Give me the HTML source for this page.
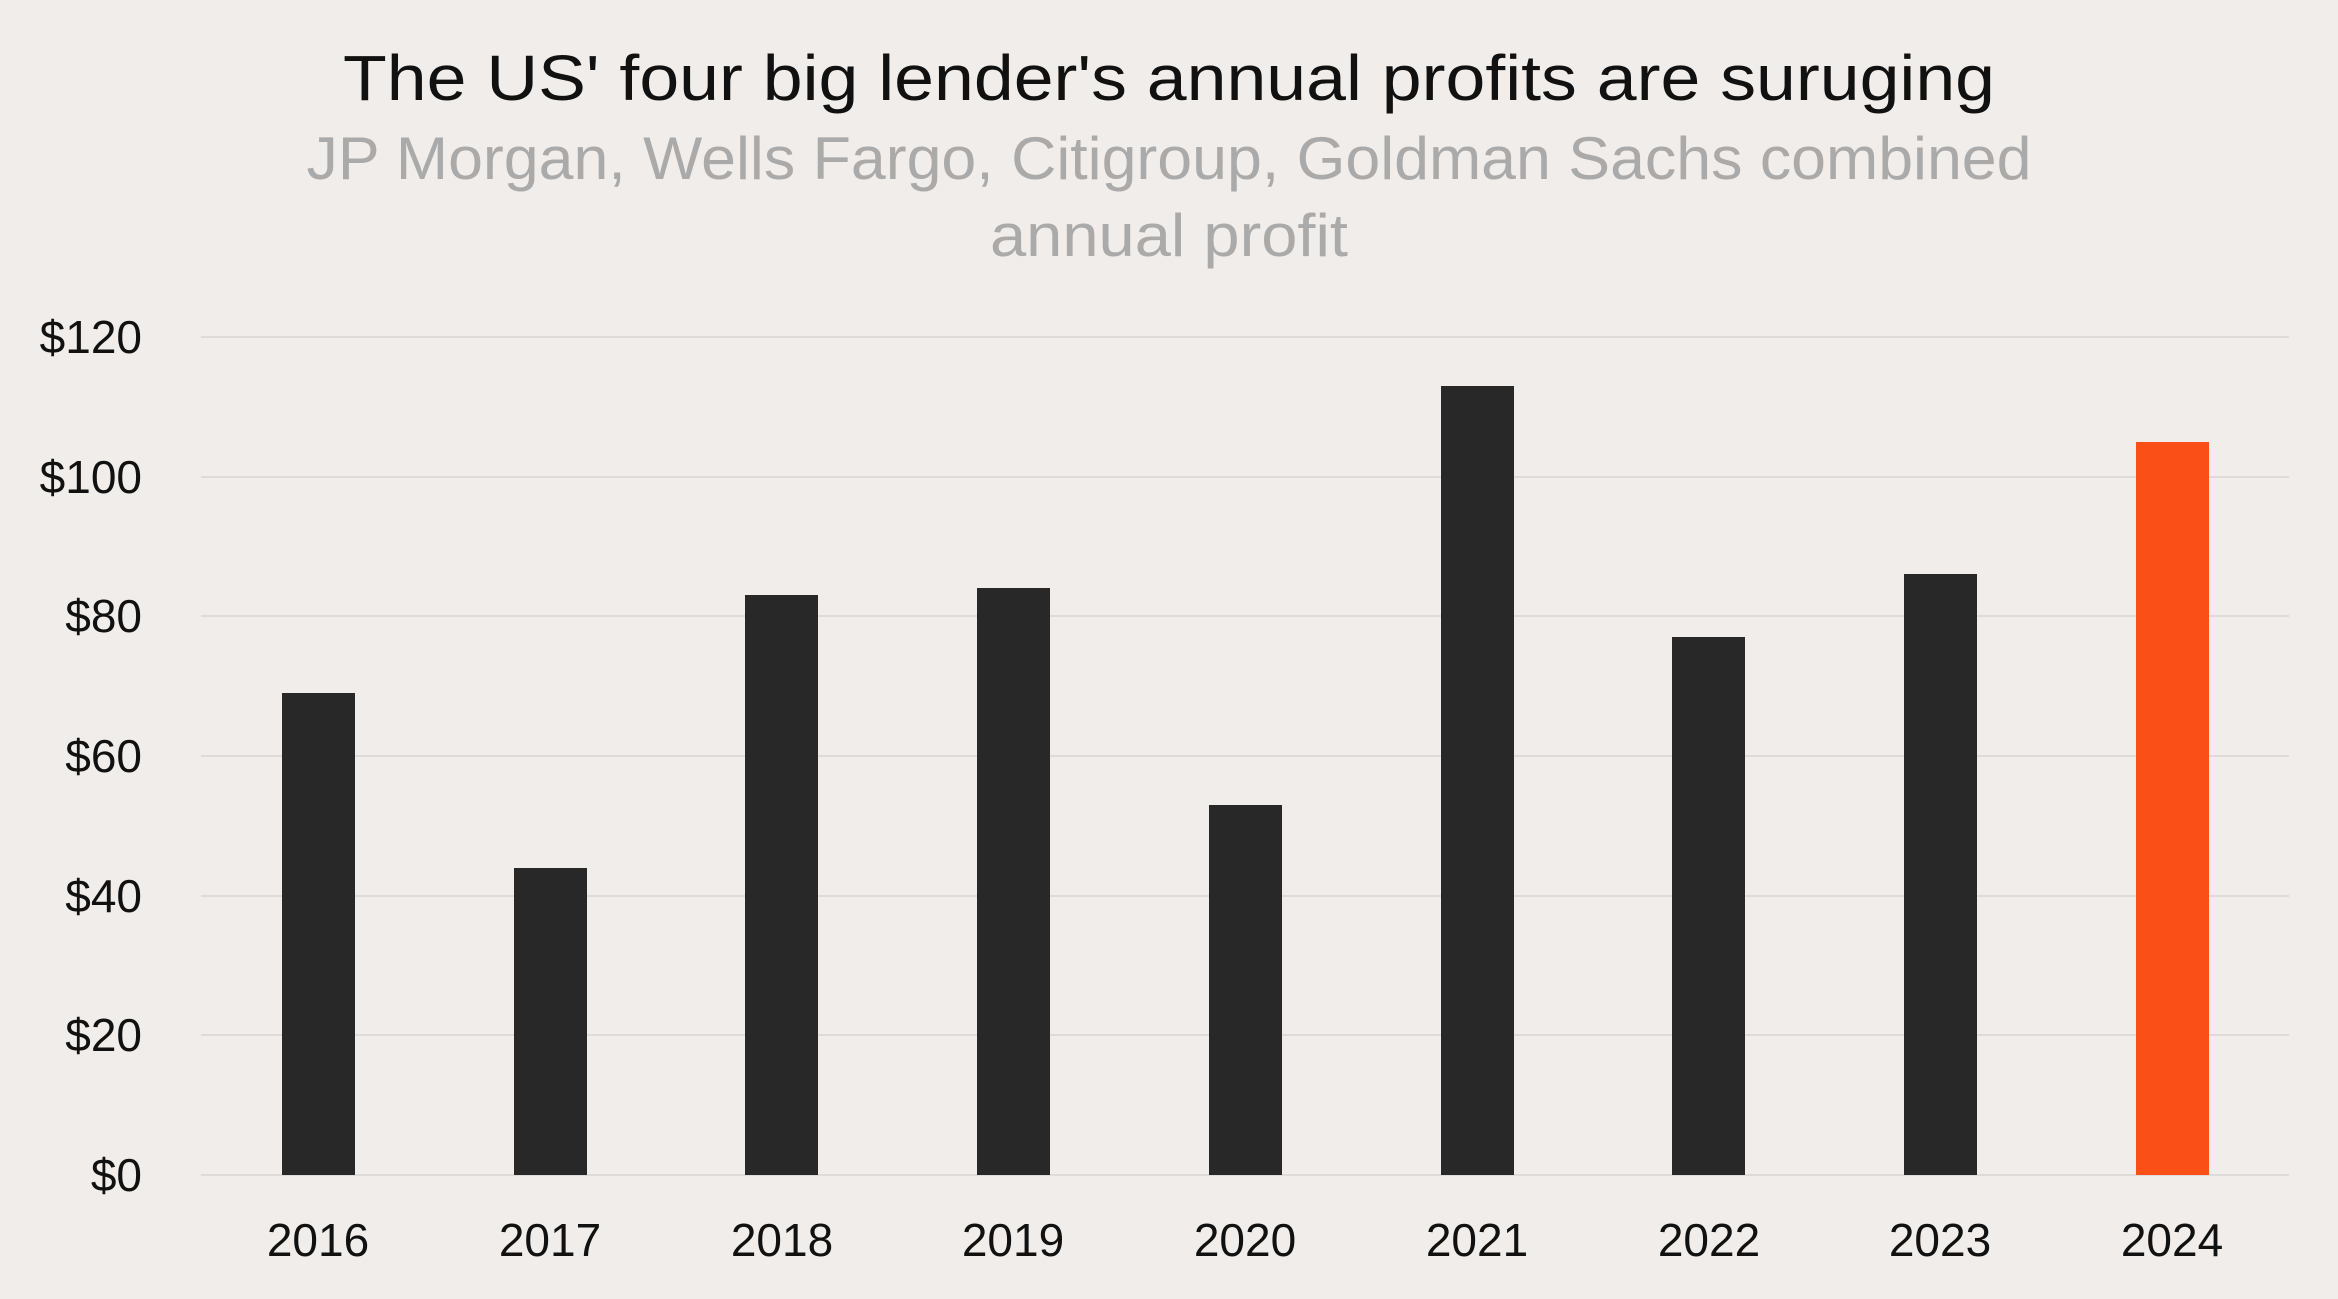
<!DOCTYPE html>
<html><head><meta charset="utf-8"><style>
html,body{margin:0;padding:0;background:#f0edea;}
svg{display:block;}
text{font-family:"Liberation Sans",sans-serif;}
</style></head><body>
<svg width="2338" height="1299" viewBox="0 0 2338 1299" xmlns="http://www.w3.org/2000/svg">
<rect width="2338" height="1299" fill="#f0edea"/>
<text x="1169" y="100" font-size="64" fill="#111" text-anchor="middle" textLength="1652" lengthAdjust="spacingAndGlyphs">The US' four big lender's annual profits are suruging</text>
<text x="1169" y="179" font-size="60" fill="#aaaaaa" text-anchor="middle" textLength="1725" lengthAdjust="spacingAndGlyphs">JP Morgan, Wells Fargo, Citigroup, Goldman Sachs combined</text>
<text x="1169" y="256" font-size="60" fill="#aaaaaa" text-anchor="middle" textLength="358" lengthAdjust="spacingAndGlyphs">annual profit</text>
<g stroke="#dedbd8" stroke-width="2">
<line x1="201" x2="2289" y1="337" y2="337"/>
<line x1="201" x2="2289" y1="477" y2="477"/>
<line x1="201" x2="2289" y1="616" y2="616"/>
<line x1="201" x2="2289" y1="756" y2="756"/>
<line x1="201" x2="2289" y1="896" y2="896"/>
<line x1="201" x2="2289" y1="1035" y2="1035"/>
<line x1="201" x2="2289" y1="1175" y2="1175"/>
</g>
<g font-size="46" fill="#111" text-anchor="end">
<text x="142" y="353">$120</text>
<text x="142" y="493">$100</text>
<text x="142" y="632">$80</text>
<text x="142" y="772">$60</text>
<text x="142" y="912">$40</text>
<text x="142" y="1051">$20</text>
<text x="142" y="1191">$0</text>
</g>
<g fill="#282828">
<rect x="282" y="693" width="73" height="482"/>
<rect x="514" y="868" width="73" height="307"/>
<rect x="745" y="595" width="73" height="580"/>
<rect x="977" y="588" width="73" height="587"/>
<rect x="1209" y="805" width="73" height="370"/>
<rect x="1441" y="386" width="73" height="789"/>
<rect x="1672" y="637" width="73" height="538"/>
<rect x="1904" y="574" width="73" height="601"/>
</g>
<rect x="2136" y="442" width="73" height="733" fill="#fa5018"/>
<g font-size="46" fill="#111" text-anchor="middle">
<text x="318" y="1256">2016</text>
<text x="550" y="1256">2017</text>
<text x="782" y="1256">2018</text>
<text x="1013" y="1256">2019</text>
<text x="1245" y="1256">2020</text>
<text x="1477" y="1256">2021</text>
<text x="1709" y="1256">2022</text>
<text x="1940" y="1256">2023</text>
<text x="2172" y="1256">2024</text>
</g>
</svg>
</body></html>
